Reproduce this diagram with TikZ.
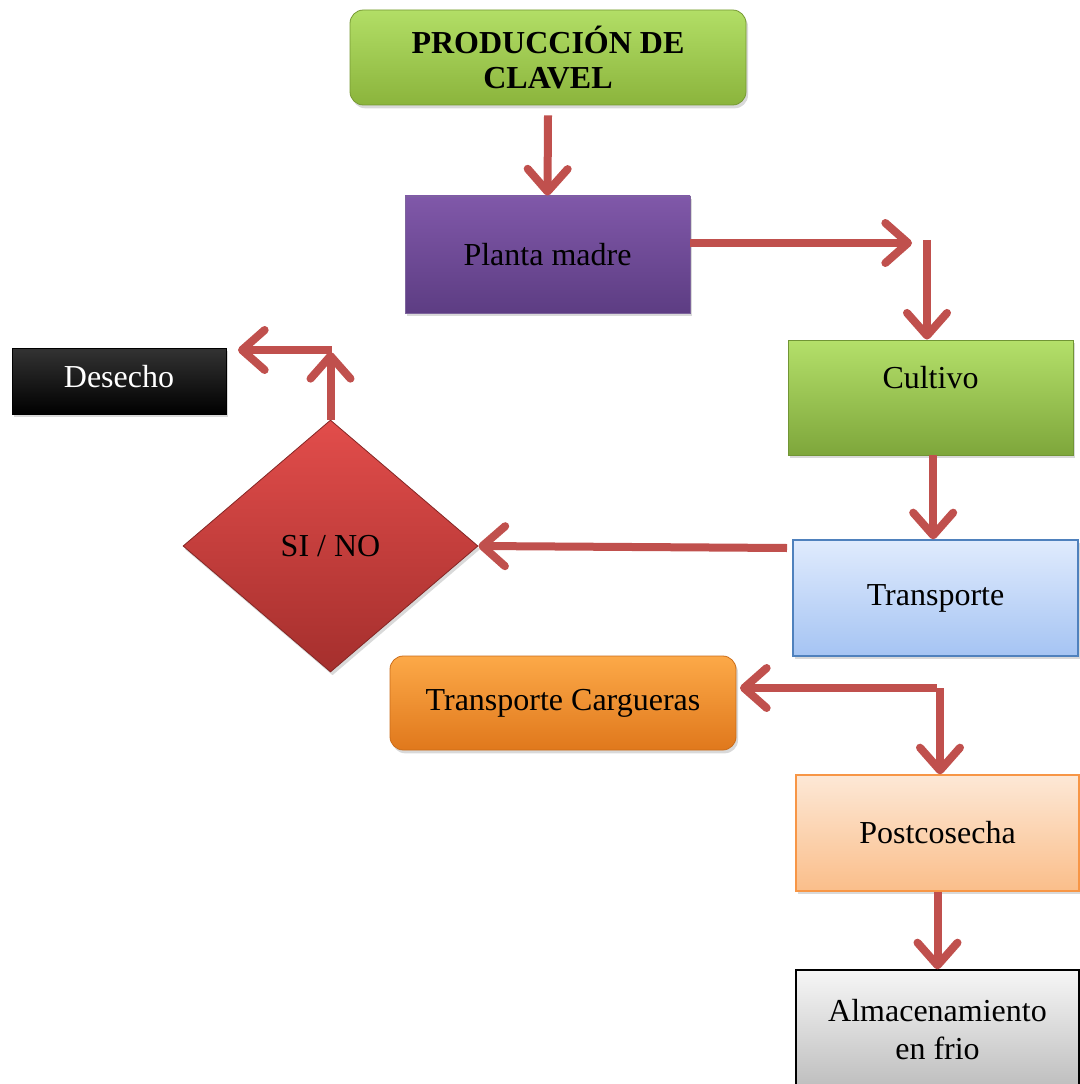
\documentclass[tikz,border=0pt]{standalone}
\usepackage{fontspec}
\setmainfont{Liberation Serif}
\usetikzlibrary{arrows.meta,shapes.geometric,shadows}
\definecolor{arrowc}{HTML}{C0504D}
\definecolor{titletop}{HTML}{B2DE66}
\definecolor{titlebot}{HTML}{8BB43C}
\definecolor{purptop}{HTML}{8058A9}
\definecolor{purpbot}{HTML}{5D3D83}
\definecolor{greentop}{HTML}{B4E06A}
\definecolor{greenbot}{HTML}{7EA63B}
\definecolor{bluetop}{HTML}{E0EBFD}
\definecolor{bluebot}{HTML}{A5C4F3}
\definecolor{blueline}{HTML}{4F81BD}
\definecolor{redtop}{HTML}{E24D4B}
\definecolor{redbot}{HTML}{A52F2D}
\definecolor{orgtop}{HTML}{FCA948}
\definecolor{orgbot}{HTML}{E0781C}
\definecolor{peachtop}{HTML}{FDE8D6}
\definecolor{peachbot}{HTML}{FABE8A}
\definecolor{peachline}{HTML}{F79646}
\definecolor{graytop}{HTML}{F6F6F6}
\definecolor{graybot}{HTML}{BDBDBD}
\tikzset{
  box/.style={rectangle, inner sep=2pt, align=center,
    font=\fontsize{24}{27}\selectfont,
    drop shadow={opacity=0.3, shadow xshift=1.5pt, shadow yshift=-2.5pt}},
  arr/.style={draw=arrowc, line width=6pt,
    -{Straight Barb[length=17pt, width=30pt, round]}},
}
\begin{document}
\begin{tikzpicture}[x=0.75pt, y=-0.75pt]
\useasboundingbox (0,0) rectangle (1079,1084);

% nodes
\node[box, rounded corners=10pt, top color=titletop, bottom color=titlebot,
  draw=titlebot!85!black, line width=0.6pt,
  minimum width=297pt, minimum height=71.25pt,
  font=\fontsize{24}{26.3}\selectfont\bfseries] (title) at (548,57.5)
  {PRODUCCIÓN DE\\CLAVEL};

\node[box, top color=purptop, bottom color=purpbot, draw=purpbot!80!white,
  line width=0.6pt, minimum width=213.75pt, minimum height=87.75pt]
  (planta) at (547.5,254.5) {Planta madre};

\node[box, top color=greentop, bottom color=greenbot, draw=greenbot!90!black,
  line width=0.6pt, minimum width=213.75pt, minimum height=86.25pt]
  (cultivo) at (930.5,397.5) {};
\node[font=\fontsize{24}{27}\selectfont, inner sep=0pt]
  (cultivotxt) at (930.5,378) {Cultivo};

\node[box, top color=bluetop, bottom color=bluebot, draw=blueline,
  line width=1pt, minimum width=213.75pt, minimum height=87pt]
  (transporte) at (935.5,598) {Transporte};

\node[box, top color=black!80, bottom color=black, draw=black,
  line width=0.6pt, minimum width=160.5pt, minimum height=49.5pt,
  text=white] (desecho) at (119,381) {};
\node[font=\fontsize{24}{27}\selectfont, inner sep=0pt, text=white]
  (desechotxt) at (119,377) {Desecho};

\node[box, diamond, inner sep=0pt, top color=redtop, bottom color=redbot,
  draw=redbot!80!black, line width=0.6pt,
  minimum width=221.25pt, minimum height=189pt]
  (decision) at (330.5,546) {SI / NO};

\node[box, rounded corners=10pt, top color=orgtop, bottom color=orgbot,
  draw=orgbot!90!black, line width=0.6pt,
  minimum width=259.5pt, minimum height=70.5pt]
  (cargueras) at (563,703) {Transporte Cargueras};

\node[box, top color=peachtop, bottom color=peachbot, draw=peachline,
  line width=1pt, minimum width=212.25pt, minimum height=87pt]
  (postcosecha) at (937.5,833) {Postcosecha};

\node[box, top color=graytop, bottom color=graybot, draw=black,
  line width=1pt, minimum width=212.25pt, minimum height=90pt,
  font=\fontsize{24}{28.5}\selectfont]
  (almacen) at (937.5,1030) {Almacenamiento\\en frio};

% free ends of connectors
\coordinate (pm) at (912,243);
\coordinate (cu) at (927,240);
\coordinate (tr) at (787,548);
\coordinate (dc1) at (330.5,352);
\coordinate (dc2) at (332,350);
\coordinate (dtip) at (238,350);
\coordinate (ctip) at (740,688);
\coordinate (corner) at (940,688);
\coordinate (cornerh) at (937,688);

% connectors
\draw[arr] ([yshift=-7.5pt]title.south) -- (planta.north);
\draw[arr] (planta.east |- pm) -- (pm);
\draw[arr] (cu) -- (cu |- cultivo.north);
\draw[arr] ([xshift=2pt]cultivo.south) -- ([xshift=2pt]cultivo.south |- transporte.north);
\draw[arr] (tr) -- (decision.east);
\draw[arr] (decision.north) -- (dc1);
\draw[arr] (dc2) -- (dtip);
\draw[arr] (cornerh) -- (ctip);
\draw[arr] (corner) -- (corner |- postcosecha.north);
\draw[arr] (postcosecha.south) -- (almacen.north);
\end{tikzpicture}
\end{document}
